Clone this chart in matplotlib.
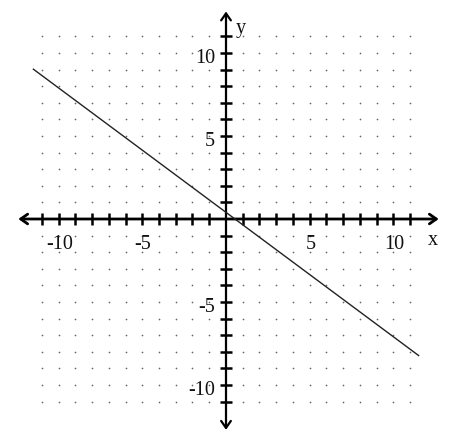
import matplotlib
matplotlib.use("Agg")
import matplotlib.pyplot as plt
import numpy as np

# line y = m*x + b drawn over the plotted x range
slope = -0.75
intercept = 0.4
x_start, x_end = -11.5, 11.5

grid_vals = list(range(-11, 12))
tick_vals = [v for v in range(-11, 12) if v != 0]
x_labels = [-10, -5, 5, 10]
y_labels = [10, 5, -5, -10]

fig = plt.figure(figsize=(4.57, 4.43), dpi=100)
ax = fig.add_axes([0, 0, 1, 1])
ax.set_xlim(-226 / 16.75, (457 - 226) / 16.75)
ax.set_ylim(-(443 - 219) / 16.6, 219 / 16.6)
ax.axis("off")

# dotted grid
gx, gy = np.meshgrid(grid_vals, grid_vals)
ax.scatter(gx.ravel(), gy.ravel(), s=1.5, color="#666666", linewidths=0, zorder=1)

# axes with arrows
font = dict(family="Liberation Serif", size=14.5, color="#111111")
ax.annotate("", xy=(12.7, 0), xytext=(-12.4, 0),
            arrowprops=dict(arrowstyle="<->,head_length=0.5,head_width=0.35",
                            lw=2, color="black", shrinkA=0, shrinkB=0), zorder=3)
ax.annotate("", xy=(0, 12.5), xytext=(0, -12.7),
            arrowprops=dict(arrowstyle="<->,head_length=0.5,head_width=0.35",
                            lw=1.6, color="black", shrinkA=0, shrinkB=0), zorder=3)

# tick marks
tv = np.array(tick_vals)
ax.plot(tv, np.zeros_like(tv), ls="none", marker="|", ms=9, mew=1.8, color="black", zorder=3)
ax.plot(np.zeros_like(tv), tv, ls="none", marker="_", ms=9, mew=1.8, color="black", zorder=3)

# tick labels
for v in x_labels:
    ax.text(v + 0.05, -1.78, str(v), ha="center", va="baseline", **font)
for v in y_labels:
    ax.text(-0.65, v - 0.62, str(v), ha="right", va="baseline", **font)
ax.text(12.33, -1.57, "x", ha="center", va="baseline", **font)
ax.text(0.9, 11.2, "y", ha="center", va="baseline", **font)

# the line
xs = np.array([x_start, x_end])
ax.plot(xs, slope * xs + intercept, color="#222222", lw=1.0, zorder=4)

fig.savefig("out.png", dpi=100)
